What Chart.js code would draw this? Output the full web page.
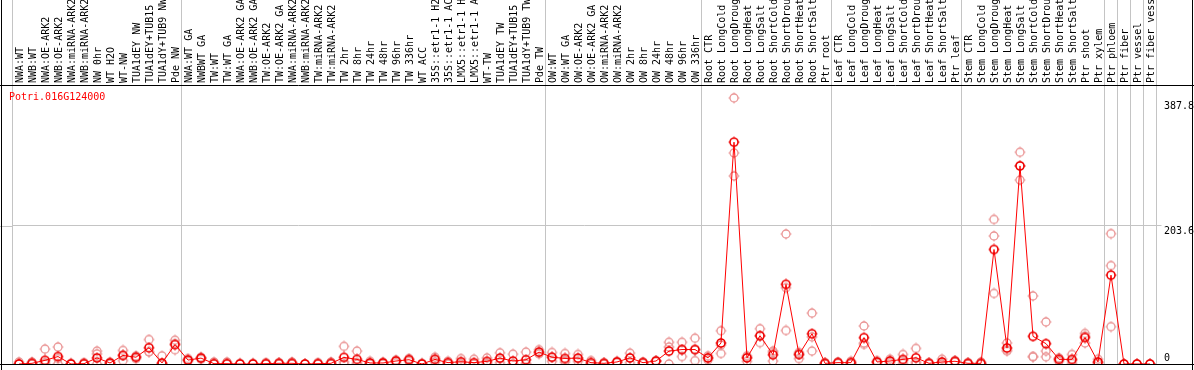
<!DOCTYPE html>
<html>
<head>
<meta charset="utf-8">
<script src="https://cdn.jsdelivr.net/npm/chart.js@4"></script>
<style>
  html, body { margin: 0; padding: 0; background: #fff; }
  #wrap { width: 1194px; height: 370px; }
</style>
</head>
<body>
<div id="wrap"><canvas id="c" width="1194" height="370"></canvas></div>
<script>
// Expression profile, one column per sample
const geneName = 'Potri.016G124000';

const samples = [
  'NWA:WT', 'NWB:WT', 'NWA:OE-ARK2', 'NWB:OE-ARK2', 'NWA:miRNA-ARK2', 'NWB:miRNA-ARK2', 'NW 0hr', 'WT H2O',
  'WT-NW', 'TUA1dEY NW', 'TUA1dEY+TUB15', 'TUA1dY+TUB9 NW', 'Pde NW',
  'NWA:WT GA', 'NWBWT GA', 'TW:WT', 'TW:WT GA', 'NWA:OE-ARK2 GA', 'NWB:OE-ARK2 GA', 'TW:OE-ARK2', 'TW:OE-ARK2 GA',
  'NWA:miRNA-ARK2', 'NWB:miRNA-ARK2', 'TW:miRNA-ARK2', 'TW:miRNA-ARK2', 'TW 2hr', 'TW 8hr', 'TW 24hr', 'TW 48hr',
  'TW 96hr', 'TW 336hr', 'WT ACC', '35S::etr1-1 H2', '35S::etr1-1 AC', 'LMX5::etr1-1 H', 'LMX5::etr1-1 A',
  'WT-TW', 'TUA1dEY TW', 'TUA1dEY+TUB15', 'TUA1dY+TUB9 TW', 'Pde TW',
  'OW:WT', 'OW:WT GA', 'OW:OE-ARK2', 'OW:OE-ARK2 GA', 'OW:miRNA-ARK2', 'OW:miRNA-ARK2', 'OW 2hr', 'OW 8hr',
  'OW 24hr', 'OW 48hr', 'OW 96hr', 'OW 336hr',
  'Root CTR', 'Root LongCold', 'Root LongDroug', 'Root LongHeat', 'Root LongSalt', 'Root ShortCold',
  'Root ShortDrou', 'Root ShortHeat', 'Root ShortSalt', 'Ptr root',
  'Leaf CTR', 'Leaf LongCold', 'Leaf LongDroug', 'Leaf LongHeat', 'Leaf LongSalt', 'Leaf ShortCold',
  'Leaf ShortDrou', 'Leaf ShortHeat', 'Leaf ShortSalt', 'Ptr leaf',
  'Stem CTR', 'Stem LongCold', 'Stem LongDroug', 'Stem LongHeat', 'Stem LongSalt', 'Stem ShortCold',
  'Stem ShortDrou', 'Stem ShortHeat', 'Stem ShortSalt', 'Ptr shoot', 'Ptr xylem',
  'Ptr phloem', 'Ptr fiber', 'Ptr vessel', 'Ptr fiber vess'
];

// first sample of each experiment group (vertical separators)
const groupStarts = [0, 13, 41, 53, 63, 73, 84, 85, 86, 87];

const meanValues = [
  0, 1, 5.4, 11, 0, 0.5, 9, 1.5, 12.6, 10, 24, 1.5, 28.6,
  5.8, 8.7, 0.5, 0.5, 0, 0, 0.5, 1, 1, 0, 0.5, 1, 9.7, 6.8, 1.5, 1.5,
  4.4, 6.3, 0, 6.8, 2, 3.4, 2, 3.9, 8.7, 4.4, 6.3, 17.5,
  10, 8.2, 8.7, 2, 1, 3, 9, 2, 4.4, 19, 21.3, 21.3,
  9, 31, 326.8, 9, 41.7, 13.6, 117.3, 14, 44.6, 1,
  2, 2, 38.8, 3, 4.4, 6.8, 9.2, 1, 3, 4,
  1, 1, 168.7, 23.7, 291.8, 40.7, 30, 6.8, 6.8, 39, 3,
  130.9, 0, 0, 0
];

const repA = [
  3, 3, 22, 25, 1, 2, 19, 3, 20, 12, 36, 12, 35,
  8, 10, 3, 3, 1, 1, 2, 2, 3, 0, 2, 3, 26, 19, 4, 3,
  6, 8, 1, 10, 4, 8, 7, 9, 16.5, 14.5, 17.5, 21,
  17, 15.5, 14, 5, 2, 4, 16, 3, 5, 32, 32, 38,
  12, 49, 392, 12, 52, 19, 191.5, 17, 75, 2,
  3, 4, 56, 5, 7, 14, 23, 2, 7, 5,
  2, 3, 213, 31, 312, 100.3, 62, 9, 14, 45, 7,
  192, 0, 0, 0
];

const repB = [
  0, 1, 2, 8, 0, 0, 15, 1, 13, 10, 18, 0, 30,
  6, 9, 0, 0, 0, 0, 0, 1, 1, 0, 0, 0, 3, 2, 1, 1,
  5, 7, 0, 7, 2, 2, 0, 2, 8, 0, 1, 17,
  10, 6, 8, 1, 1, 3, 9, 2, 4, 25, 21, 21,
  9, 28, 311, 10, 41.5, 17, 112.5, 14, 40, 1,
  2, 2, 31, 3, 4, 5, 3, 1, 2, 4,
  1, 0, 188.6, 21, 292, 11, 19, 7, 5, 41, 1,
  145, 0, 0, 0
];

const repC = [
  0, 0, 0, 0, 0, 0, 0, 0, 5, 8, 18, 0, 21,
  4, 7, 0, 0, 0, 0, 0, 0, 0, 0, 0, 0, 0, 0, 0, 0,
  2, 4, 0, 3, 0, 0, 0, 0, 2, 0, 0, 15,
  4, 3, 4, 0, 0, 2, 2, 1, 4, 0, 11, 5,
  6, 15.5, 277, 4, 31.5, 4.4, 49.4, 8, 19, 0,
  1, 0, 29, 1, 2, 1, 1, 0, 0, 3,
  0, 0, 104, 19, 271, 10.6, 10.6, 4, 1, 31, 1,
  55, 0, 0, 0
];

const yTicks = [0, 203.6, 387.8];

const MONO = "'DejaVu Sans Mono', monospace";
const GRID = '#c4c4c4';

// ring marker with four small stubs
function ringMarker(color, width) {
  const c = document.createElement('canvas');
  c.width = c.height = 12;
  const g = c.getContext('2d');
  g.strokeStyle = color;
  g.lineWidth = width;
  g.beginPath();
  g.arc(6, 6, 4, 0, Math.PI * 2);
  g.stroke();
  g.lineWidth = 1;
  g.beginPath();
  g.moveTo(6, 0.5); g.lineTo(6, 2);
  g.moveTo(6, 10); g.lineTo(6, 11.5);
  g.moveTo(0.5, 6); g.lineTo(2, 6);
  g.moveTo(10, 6); g.lineTo(11.5, 6);
  g.stroke();
  return c;
}
const meanMark = ringMarker('#ee0000', 1.6);
const repMark = ringMarker('#ea9494', 1.3);

const frame = {
  id: 'frame',
  beforeDatasetsDraw(chart) {
    const { ctx, chartArea: a, scales: { y } } = chart;
    ctx.save();
    ctx.strokeStyle = GRID;
    ctx.lineWidth = 1;
    const gy = Math.round(y.getPixelForValue(203.6)) + 0.5;
    ctx.beginPath();
    ctx.moveTo(0, gy); ctx.lineTo(a.left, gy);
    const rx = Math.round(a.right) - 0.5;
    ctx.moveTo(rx, 0); ctx.lineTo(rx, a.bottom);
    ctx.stroke();
    ctx.restore();
  },
  afterDraw(chart) {
    const { ctx, chartArea: a, width, height } = chart;
    ctx.save();
    ctx.strokeStyle = '#000';
    ctx.lineWidth = 1;
    ctx.beginPath();
    ctx.moveTo(0, Math.round(a.top) + 0.5); ctx.lineTo(width, Math.round(a.top) + 0.5);
    ctx.moveTo(0, Math.round(a.bottom) + 0.5); ctx.lineTo(width, Math.round(a.bottom) + 0.5);
    ctx.moveTo(1.5, 0); ctx.lineTo(1.5, height);
    ctx.moveTo(width - 1.5, 0); ctx.lineTo(width - 1.5, height);
    ctx.stroke();
    ctx.fillStyle = '#ff0000';
    ctx.font = '10px ' + MONO;
    ctx.textBaseline = 'middle';
    ctx.fillText(geneName, 9, 97);
    ctx.restore();
  }
};

const repSet = (data) => ({
  data,
  showLine: false,
  pointStyle: repMark,
  pointRadius: 5,
  pointHoverRadius: 5
});

new Chart(document.getElementById('c'), {
  type: 'line',
  data: {
    labels: samples,
    datasets: [
      {
        data: meanValues,
        borderColor: '#ff0000',
        borderWidth: 1,
        tension: 0,
        pointStyle: meanMark,
        pointRadius: 5,
        pointHoverRadius: 5
      },
      repSet(repA),
      repSet(repB),
      repSet(repC)
    ]
  },
  options: {
    responsive: false,
    animation: false,
    events: [],
    layout: { padding: { left: 12.5, bottom: 2, top: 0, right: 0 } },
    plugins: { legend: { display: false }, tooltip: { enabled: false } },
    scales: {
      x: {
        position: 'top',
        offset: true,
        border: { display: false },
        grid: {
          offset: true,
          tickLength: 85,
          lineWidth: 1,
          color: (c) => (c.index !== undefined && groupStarts.includes(c.index)) ? GRID : 'transparent'
        },
        ticks: {
          autoSkip: false,
          minRotation: 90,
          maxRotation: 90,
          padding: -83,
          labelOffset: 13,
          color: '#000',
          font: { family: MONO, size: 10 }
        },
        afterFit: (s) => { s.height = 85; s.paddingLeft = 0; s.paddingRight = 0; }
      },
      y: {
        position: 'right',
        min: 0,
        max: 411,
        border: { display: false },
        afterBuildTicks: (s) => { s.ticks = yTicks.map(v => ({ value: v })); },
        grid: {
          tickLength: 5,
          color: (c) => (c.tick && c.tick.value === 203.6) ? GRID : 'transparent'
        },
        ticks: {
          padding: 2.5,
          color: '#000',
          font: { family: MONO, size: 10 },
          callback: (v) => v === 0 ? ['0', ''] : ['', String(v)]
        },
        afterFit: (s) => { s.width = 37.5; s.paddingTop = 0; s.paddingBottom = 0; }
      }
    }
  },
  plugins: [frame]
});
</script>
</body>
</html>
